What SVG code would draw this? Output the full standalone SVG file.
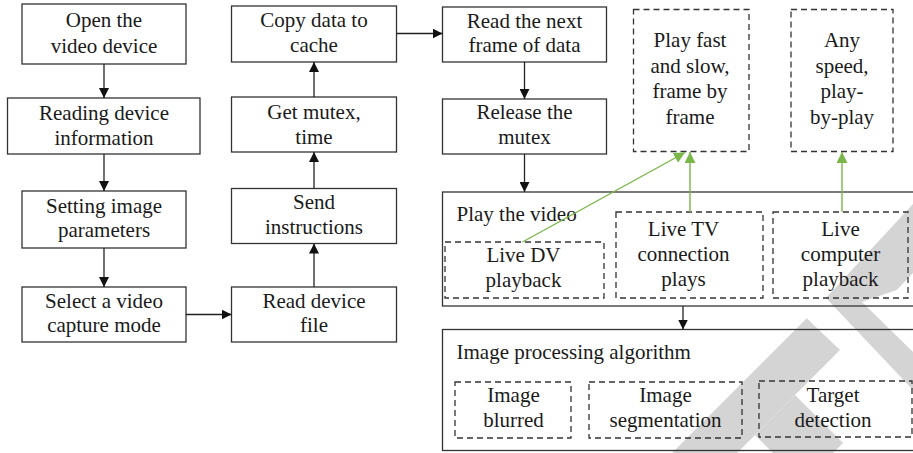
<svg xmlns="http://www.w3.org/2000/svg" width="913" height="453" viewBox="0 0 913 453" font-family="'Liberation Serif', 'Times New Roman', serif">
  <defs>
    <marker id="arrow" viewBox="0 0 10 10" refX="10" refY="5" markerWidth="10" markerHeight="10" markerUnits="userSpaceOnUse" orient="auto">
      <path d="M0,0 L10,5 L0,10 z" fill="#111"/>
    </marker>
    <marker id="arrow-green" viewBox="0 0 10 10" refX="10" refY="5" markerWidth="11" markerHeight="11" markerUnits="userSpaceOnUse" orient="auto">
      <path d="M0,0 L10,5 L0,10 z" fill="#7ab648"/>
    </marker>
  </defs>
  <style>
    .box { fill: none; stroke: #333; stroke-width: 1.3; }
    .dash { fill: none; stroke: #333; stroke-width: 1.3; stroke-dasharray: 6 4; }
    .t { font-family: "Liberation Serif", "Times New Roman", serif; font-size: 21px; fill: #1a1a1a; text-anchor: middle; }
    .tl { text-anchor: start; }
    .edge { stroke: #222; stroke-width: 1.3; fill: none; marker-end: url(#arrow); }
    .edge-g { stroke: #7ab648; stroke-width: 1.4; fill: none; marker-end: url(#arrow-green); }
    .wm { fill: #d4d4d4; }
  </style>

  <rect width="913" height="453" fill="#fff"/>

  <!-- light grey background mark, lower right -->
  <g id="backdrop">
    <polygon class="wm" points="913,204 826,298 913,390 913,352 862,302 896.7,290 913,273"/>
    <polygon class="wm" points="806.7,318.3 840,350 737,453 672,453"/>
    <polygon class="wm" points="795,395 843,443 833,453 773,453 755,435"/>
  </g>

  <!-- capture chain -->
  <g id="open-device">
    <rect class="box" x="22" y="4" width="164" height="60"/>
    <text class="t" x="104" y="27">Open the</text>
    <text class="t" x="104" y="52.5">video device</text>
  </g>
  <g id="read-info">
    <rect class="box" x="7.5" y="98" width="192.5" height="56"/>
    <text class="t" x="104" y="119.5">Reading device</text>
    <text class="t" x="104" y="144.5">information</text>
  </g>
  <g id="set-params">
    <rect class="box" x="22" y="191" width="164" height="57"/>
    <text class="t" x="104" y="212.5">Setting image</text>
    <text class="t" x="104" y="237">parameters</text>
  </g>
  <g id="capture-mode">
    <rect class="box" x="22" y="287" width="164" height="55"/>
    <text class="t" x="104" y="307.5">Select a video</text>
    <text class="t" x="104" y="332">capture mode</text>
  </g>

  <g id="copy-cache">
    <rect class="box" x="231.5" y="6" width="165" height="56"/>
    <text class="t" x="314" y="27">Copy data to</text>
    <text class="t" x="314" y="52">cache</text>
  </g>
  <g id="get-mutex">
    <rect class="box" x="231.5" y="97" width="165" height="55"/>
    <text class="t" x="314" y="118.5">Get mutex,</text>
    <text class="t" x="314" y="143.5">time</text>
  </g>
  <g id="send-instructions">
    <rect class="box" x="231.5" y="188.5" width="165" height="55"/>
    <text class="t" x="314" y="208.5">Send</text>
    <text class="t" x="314" y="233.5">instructions</text>
  </g>
  <g id="read-file">
    <rect class="box" x="231.5" y="287" width="165" height="55"/>
    <text class="t" x="314" y="307.5">Read device</text>
    <text class="t" x="314" y="332">file</text>
  </g>

  <g id="read-frame">
    <rect class="box" x="442.5" y="7" width="164" height="55"/>
    <text class="t" x="524.5" y="27.5">Read the next</text>
    <text class="t" x="524.5" y="52">frame of data</text>
  </g>
  <g id="release-mutex">
    <rect class="box" x="442.5" y="99" width="164" height="55"/>
    <text class="t" x="524.5" y="119">Release the</text>
    <text class="t" x="524.5" y="143.5">mutex</text>
  </g>

  <!-- playback modes -->
  <g id="fast-slow">
    <rect class="dash" x="633.5" y="9.5" width="115.5" height="142"/>
    <text class="t" x="690" y="47">Play fast</text>
    <text class="t" x="690" y="72.5">and slow,</text>
    <text class="t" x="690" y="98">frame by</text>
    <text class="t" x="690" y="123.5">frame</text>
  </g>
  <g id="any-speed">
    <rect class="dash" x="791" y="9.5" width="102" height="142"/>
    <text class="t" x="842" y="47">Any</text>
    <text class="t" x="842" y="72.5">speed,</text>
    <text class="t" x="842" y="98">play-</text>
    <text class="t" x="842" y="123.5">by-play</text>
  </g>

  <g id="play-video">
    <rect class="box" x="442.5" y="192" width="480" height="114"/>
    <text class="t tl" x="456.5" y="221">Play the video</text>
  </g>
  <g id="live-dv">
    <rect class="dash" x="445" y="242" width="159" height="56"/>
    <text class="t" x="523.5" y="262">Live DV</text>
    <text class="t" x="523.5" y="287">playback</text>
  </g>
  <g id="live-tv">
    <rect class="dash" x="616" y="212" width="147" height="86"/>
    <text class="t" x="683.5" y="235.5">Live TV</text>
    <text class="t" x="683.5" y="260.5">connection</text>
    <text class="t" x="683.5" y="286">plays</text>
  </g>
  <g id="live-computer">
    <rect class="dash" x="773" y="212" width="135" height="86"/>
    <text class="t" x="840.5" y="235.5">Live</text>
    <text class="t" x="840.5" y="260.5">computer</text>
    <text class="t" x="840.5" y="286">playback</text>
  </g>

  <!-- image processing -->
  <g id="image-processing">
    <rect class="box" x="442.5" y="329.5" width="480" height="121"/>
    <text class="t tl" x="456.5" y="358.5">Image processing algorithm</text>
  </g>
  <g id="image-blurred">
    <rect class="dash" x="455" y="382" width="116" height="56"/>
    <text class="t" x="513.5" y="402">Image</text>
    <text class="t" x="513.5" y="427">blurred</text>
  </g>
  <g id="image-segmentation">
    <rect class="dash" x="589" y="382" width="153" height="56"/>
    <text class="t" x="665.5" y="402">Image</text>
    <text class="t" x="665.5" y="427">segmentation</text>
  </g>
  <g id="target-detection">
    <rect class="dash" x="759" y="381" width="153" height="56"/>
    <text class="t" x="833" y="402">Target</text>
    <text class="t" x="833" y="427">detection</text>
  </g>

  <!-- connectors -->
  <g id="connectors">
    <line class="edge" x1="104" y1="64" x2="104" y2="98"/>
    <line class="edge" x1="104" y1="154" x2="104" y2="191"/>
    <line class="edge" x1="104" y1="248" x2="104" y2="287"/>
    <line class="edge" x1="186" y1="314.5" x2="231.5" y2="314.5"/>
    <line class="edge" x1="314" y1="287" x2="314" y2="243.5"/>
    <line class="edge" x1="314" y1="188.5" x2="314" y2="152"/>
    <line class="edge" x1="314" y1="97" x2="314" y2="62"/>
    <line class="edge" x1="396.5" y1="33.5" x2="442.5" y2="33.5"/>
    <line class="edge" x1="524.5" y1="62" x2="524.5" y2="99"/>
    <line class="edge" x1="524.5" y1="154" x2="524.5" y2="192"/>
    <line class="edge" x1="683" y1="306" x2="683" y2="329.5"/>
    <line class="edge-g" x1="522.5" y1="242" x2="685" y2="152.5"/>
    <line class="edge-g" x1="690" y1="212" x2="690" y2="152"/>
    <line class="edge-g" x1="842" y1="212" x2="842" y2="152"/>
  </g>
</svg>
